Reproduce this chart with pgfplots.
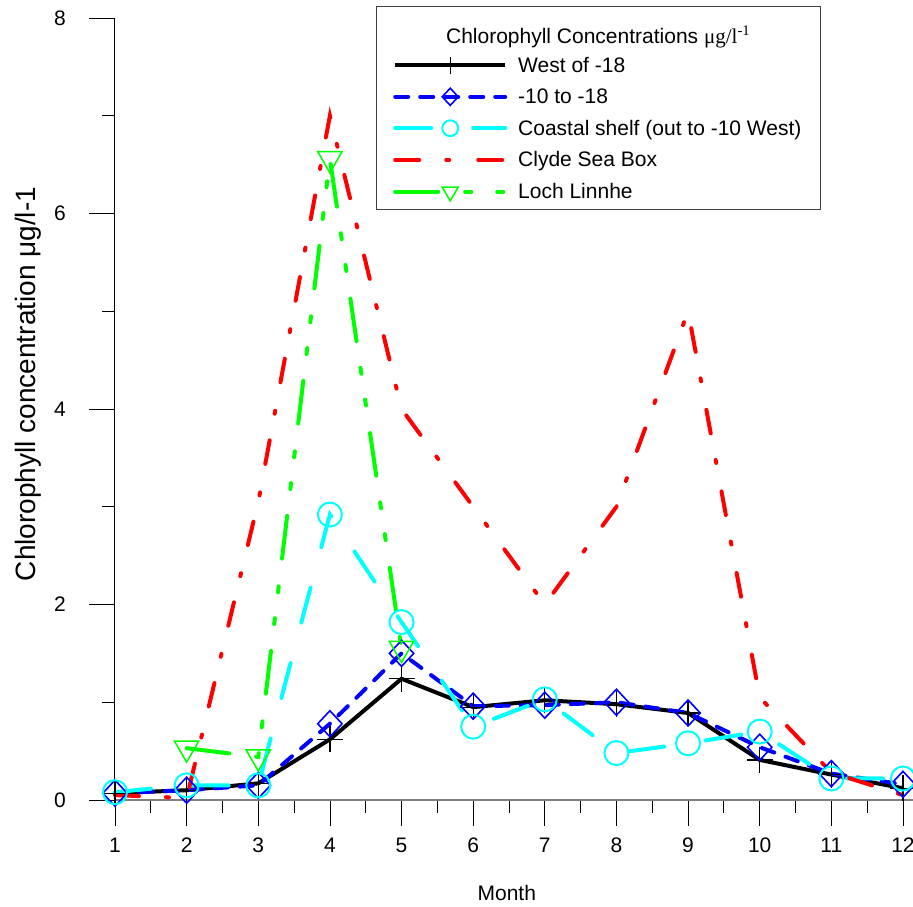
\documentclass[border=0pt]{standalone}
\usepackage{fontspec}
\setmainfont{Liberation Sans}
\newfontfamily\seriffont{Liberation Serif}
\usepackage{pgfplots}
\pgfplotsset{compat=1.18}
\definecolor{cCyan}{RGB}{0,255,255}
\definecolor{cGreen}{RGB}{0,255,0}
\definecolor{cRed}{RGB}{255,0,0}
\definecolor{cBlue}{RGB}{0,0,255}
\begin{document}
\begin{tikzpicture}
\begin{axis}[
  name=ax,
  scale only axis, width=798bp, height=782bp,
  xmin=1, xmax=12.14, ymin=0, ymax=8,
  clip=false,
  axis lines*=left,
  x axis line style={-, draw=gray, line width=1.5bp},
  y axis line style={-, draw=black, line width=1bp},
  xtick={1,...,12}, ytick={0,2,4,6,8},
  minor xtick={1.5,2.5,...,11.5}, minor ytick={1,3,5,7},
  tick align=outside,
  major tick length=26bp, minor tick length=13bp,
  tick style={black, line width=0.8bp},
  /pgf/number format/assume math mode=true,
  tick label style={font=\fontsize{21bp}{25bp}\selectfont},
  xticklabel style={inner sep=0pt, yshift=-12bp},
  yticklabel style={inner sep=0pt, xshift=-23bp},
  xlabel={Month},
  xlabel style={font=\fontsize{21bp}{25bp}\selectfont, at={(ticklabel cs:0.491)}, yshift=-29bp},
  ylabel={Chlorophyll concentration μg/l-1},
  ylabel style={font=\fontsize{28bp}{32bp}\selectfont, at={(axis description cs:-0.109,0.532)}, anchor=center},
  legend style={at={(0.3484,0.9516)}, anchor=north west, draw=none, fill=none, inner sep=0pt,
    font=\fontsize{21bp}{25bp}\selectfont, row sep=13bp, column sep=10bp,
    nodes={inner sep=1bp}},
  legend cell align=left,
  legend image code/.code={\draw[mark repeat=2,mark phase=2,#1, every mark/.append style={scale=0.66}] plot coordinates {(0bp,0bp) (55bp,0bp) (110bp,0bp)};},
]
\addplot[black, line width=4bp, mark=+, mark size=13bp, mark options={line width=1.2bp, solid}]
 coordinates {(1,0.07) (2,0.10) (3,0.17) (4,0.62) (5,1.24) (6,0.95) (7,1.02) (8,0.98) (9,0.89) (10,0.41) (11,0.26) (12,0.12)};
\addlegendentry{West of -18}
\addplot[cBlue, line width=4bp, line cap=round, dash pattern=on 13bp off 12bp, mark=diamond, mark size=13bp, mark options={solid, line width=1.6bp, xscale=1.25}]
 coordinates {(1,0.07) (2,0.10) (3,0.15) (4,0.78) (5,1.50) (6,0.96) (7,0.97) (8,1.00) (9,0.89) (10,0.54) (11,0.27) (12,0.16)};
\addlegendentry{-10 to -18}
\addplot[cCyan, line width=4bp, line cap=round, dash pattern=on 36bp off 42bp, mark=o, mark size=12bp, mark options={solid, line width=2bp}]
 coordinates {(1,0.08) (2,0.15) (3,0.15) (4,2.92) (5,1.82) (6,0.75) (7,1.03) (8,0.48) (9,0.58) (10,0.70) (11,0.22) (12,0.22)};
\addlegendentry{Coastal shelf (out to -10 West)}
\addplot[cRed, line width=4bp, line cap=round, dash pattern=on 24bp off 27bp on 3bp off 29bp]
 coordinates {(1,0.05) (2,0.02) (3,3.05) (4,7.00) (5,4.00) (6,3.00) (7,2.00) (8,3.00) (9,5.00) (10,1.05) (11,0.28) (12,0.05)};
\addlegendentry{Clyde Sea Box}
\addplot[cGreen, line width=4bp, line cap=round, dash pattern=on 43bp off 27bp on 6bp off 26bp on 6bp off 28bp, mark=triangle, mark size=14bp, mark options={solid, rotate=180, line width=1.5bp}]
 coordinates {(2,0.53) (3,0.44) (4,6.56) (5,1.55)};
\addlegendentry{Loch Linnhe}
\draw[gray!50!black, line width=1bp, fill=white] (axis description cs:0.3271,1.0141) rectangle (axis description cs:0.8835,0.7545);
\node[font=\fontsize{21bp}{25bp}\selectfont] at (axis description cs:0.6055,0.9757) {Chlorophyll Concentrations {\seriffont μg/l\textsuperscript{-1}}};
\end{axis}
\pgfresetboundingbox
\path[use as bounding box] ([shift={(-115bp,-107bp)}]ax.south west) rectangle ([shift={(0bp,18bp)}]ax.north east);
\end{tikzpicture}
\end{document}
